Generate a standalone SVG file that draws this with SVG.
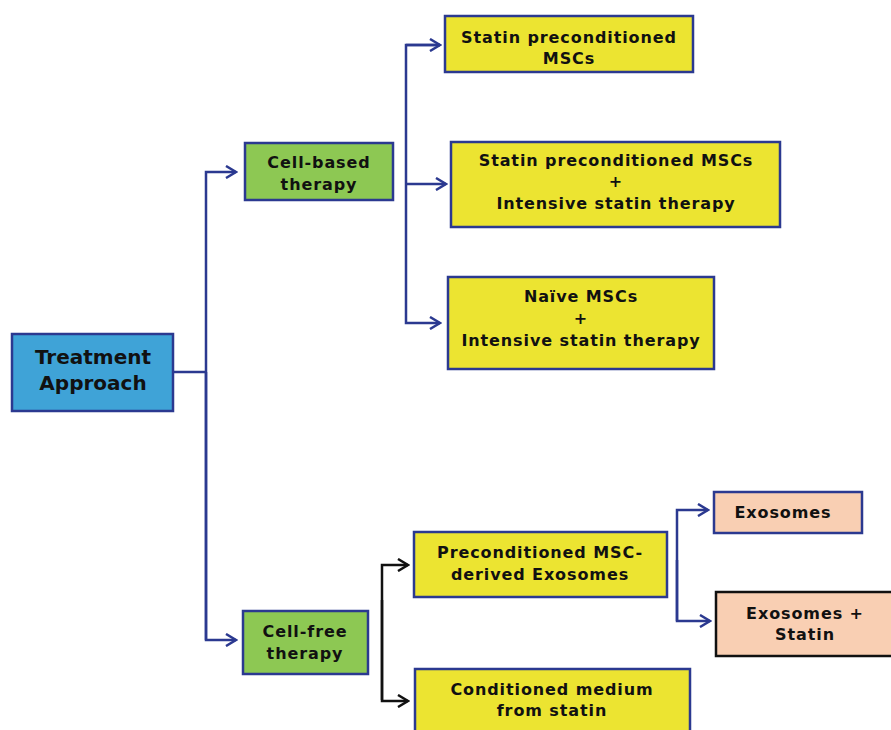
<svg xmlns="http://www.w3.org/2000/svg" width="891" height="730" viewBox="0 0 891 730">
<style>
.t{font-family:"DejaVu Sans","Liberation Sans",sans-serif;font-weight:bold;fill:#111;text-anchor:middle}
.s{font-size:16px;letter-spacing:0.9px}
.b{font-size:20px}
.n{stroke:#2b3990;stroke-width:2.5}
.blue{fill:#3fa3d7}
.green{fill:#8dc853}
.yel{fill:#ece431}
.peach{fill:#f9cfb3}
.c{fill:none;stroke:#2b3990;stroke-width:2.5}
.k{fill:none;stroke:#111;stroke-width:2.5}
</style>
<defs>
<marker id="ab" markerWidth="14" markerHeight="14" refX="12" refY="7" orient="auto" markerUnits="userSpaceOnUse">
<path d="M2,1 L12,7 L2,13" fill="none" stroke="#2b3990" stroke-width="2.5"/>
</marker>
<marker id="ak" markerWidth="14" markerHeight="14" refX="12" refY="7" orient="auto" markerUnits="userSpaceOnUse">
<path d="M2,1 L12,7 L2,13" fill="none" stroke="#111" stroke-width="2.5"/>
</marker>
</defs>
<rect width="891" height="730" fill="#fff"/>
<g id="connectors">
<path class="c" d="M173,372 H206"/>
<path class="c" d="M206,640 V172 H236" marker-end="url(#ab)"/>
<path class="c" d="M206,372 V640 H236" marker-end="url(#ab)"/>
<path class="c" d="M440,45 H406 V323 H440" marker-end="url(#ab)"/>
<path class="c" d="M406,45 H440" marker-end="url(#ab)"/>
<path class="c" d="M406,184 H446" marker-end="url(#ab)"/>
<path class="k" d="M382,700 V565 H408" marker-end="url(#ak)"/>
<path class="k" d="M382,600 V701 H408" marker-end="url(#ak)"/>
<path class="c" d="M677,621 V510 H708" marker-end="url(#ab)"/>
<path class="c" d="M677,560 V621 H710" marker-end="url(#ab)"/>
</g>
<g id="treatment">
<rect class="n blue" x="12" y="334" width="161" height="77"/>
<text class="t b" x="93" y="364">Treatment</text>
<text class="t b" x="93" y="390">Approach</text>
</g>
<g id="cellbased">
<rect class="n green" x="245" y="143" width="148" height="57"/>
<text class="t s" x="319" y="168">Cell-based</text>
<text class="t s" x="319" y="190">therapy</text>
</g>
<g id="box1">
<rect class="n yel" x="445" y="16" width="248" height="56"/>
<text class="t s" x="569" y="43">Statin preconditioned</text>
<text class="t s" x="569" y="64">MSCs</text>
</g>
<g id="box2">
<rect class="n yel" x="451" y="142" width="329" height="85"/>
<text class="t s" x="616" y="166">Statin preconditioned MSCs</text>
<text class="t s" x="616" y="187">+</text>
<text class="t s" x="616" y="209">Intensive statin therapy</text>
</g>
<g id="box3">
<rect class="n yel" x="448" y="277" width="266" height="92"/>
<text class="t s" x="581" y="302">Naïve MSCs</text>
<text class="t s" x="581" y="324">+</text>
<text class="t s" x="581" y="346">Intensive statin therapy</text>
</g>
<g id="cellfree">
<rect class="n green" x="243" y="611" width="125" height="63"/>
<text class="t s" x="305" y="637">Cell-free</text>
<text class="t s" x="305" y="659">therapy</text>
</g>
<g id="precond">
<rect class="n yel" x="414" y="532" width="253" height="65"/>
<text class="t s" x="540" y="558">Preconditioned MSC-</text>
<text class="t s" x="540" y="580">derived Exosomes</text>
</g>
<g id="condmed">
<rect class="n yel" x="415" y="669" width="275" height="70"/>
<text class="t s" x="552" y="695">Conditioned medium</text>
<text class="t s" x="552" y="716">from statin</text>
</g>
<g id="exo">
<rect class="n peach" x="714" y="492" width="148" height="41"/>
<text class="t s" x="783" y="518">Exosomes</text>
</g>
<g id="exostatin">
<rect class="peach" x="716" y="592" width="180" height="64" stroke="#111" stroke-width="2.5"/>
<text class="t s" x="805" y="619">Exosomes +</text>
<text class="t s" x="805" y="640">Statin</text>
</g>
</svg>
